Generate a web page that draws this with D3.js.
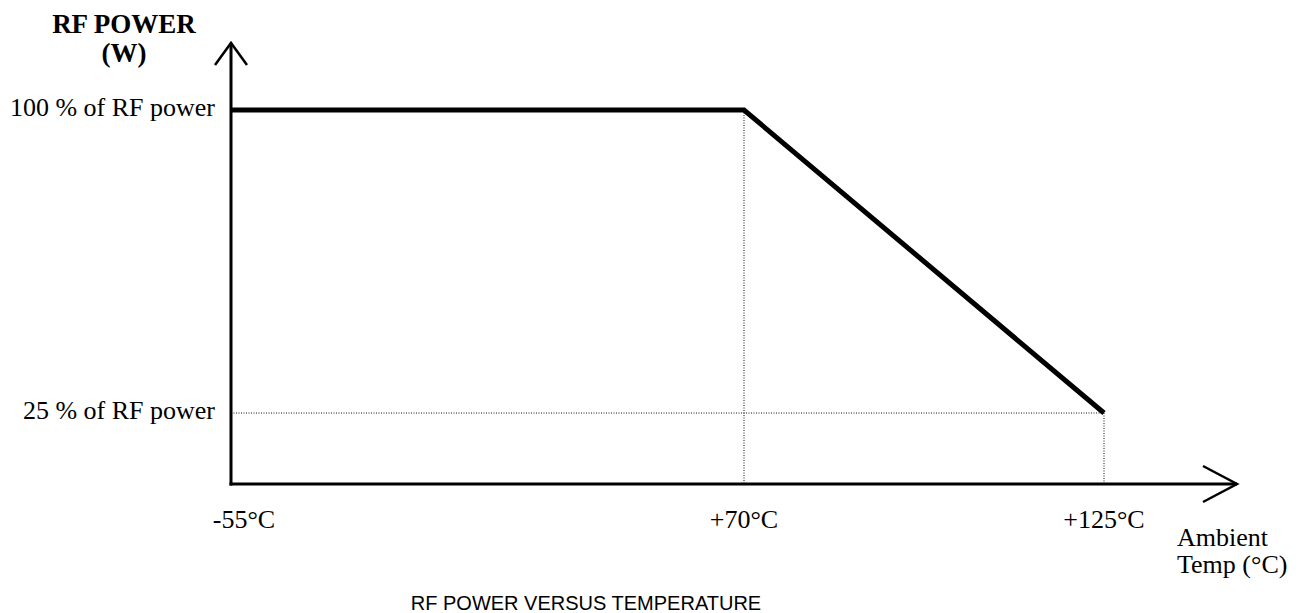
<!DOCTYPE html>
<html>
<head>
<meta charset="utf-8">
<script src="https://cdn.jsdelivr.net/npm/d3@7"></script>
<style>
  body { margin: 0; background: #fff; }
  .serif { font-family: "Liberation Serif", "Times New Roman", serif; }
</style>
</head>
<body>
<svg width="1309" height="613"></svg>
<script>
// data
var temps = [-55, 70, 125];
var power = [100, 100, 25];
var tempLabels = ["-55°C", "+70°C", "+125°C"];
var powerTicks = [100, 25];
var powerLabels = ["100 % of RF power", "25 % of RF power"];

var svg = d3.select("svg"),
    width = +svg.attr("width"),
    height = +svg.attr("height");

var origin = { x: 231, y: 484 },
    xEnd = 1237,
    yEnd = 43;

// the drawing's x axis is not to scale, so map each break point
var x = d3.scaleLinear()
    .domain(temps)
    .range([origin.x, 744, 1104]);

var y = d3.scaleLinear()
    .domain([25, 100])
    .range([413, 110]);

var pts = temps.map(function (t, i) { return { t: t, p: power[i] }; });

// dotted guide lines
var guides = svg.append("g")
    .attr("stroke", "#111")
    .attr("stroke-width", 1)
    .attr("stroke-dasharray", "1,1.5");

guides.selectAll("line.v")
    .data(pts.slice(1))
    .enter().append("line")
    .attr("class", "v")
    .attr("x1", function (d) { return x(d.t); })
    .attr("x2", function (d) { return x(d.t); })
    .attr("y1", function (d) { return y(d.p); })
    .attr("y2", origin.y);

guides.append("line")
    .attr("x1", origin.x)
    .attr("x2", x(temps[2]))
    .attr("y1", y(power[2]))
    .attr("y2", y(power[2]));

// axes with open arrowheads
var axes = svg.append("g")
    .attr("fill", "none")
    .attr("stroke", "#000")
    .attr("stroke-width", 3);

axes.append("line")
    .attr("x1", origin.x).attr("y1", origin.y + 1.5)
    .attr("x2", origin.x).attr("y2", yEnd);
axes.append("line")
    .attr("x1", origin.x - 1.5).attr("y1", origin.y)
    .attr("x2", xEnd).attr("y2", origin.y);

axes.append("path")
    .attr("stroke-width", 2.5)
    .attr("d", d3.line()([[origin.x - 16, yEnd + 22], [origin.x, yEnd], [origin.x + 16, yEnd + 22]]));
axes.append("path")
    .attr("stroke-width", 2.5)
    .attr("d", d3.line()([[xEnd - 34, origin.y - 18], [xEnd, origin.y], [xEnd - 34, origin.y + 18]]));

// power curve
svg.append("path")
    .datum(pts)
    .attr("fill", "none")
    .attr("stroke", "#000")
    .attr("stroke-width", 5)
    .attr("d", d3.line()
        .x(function (d) { return x(d.t); })
        .y(function (d) { return y(d.p); }));

// y labels
svg.append("g")
    .attr("class", "serif")
    .selectAll("text")
    .data(powerTicks)
    .enter().append("text")
    .attr("x", origin.x - 16)
    .attr("y", function (d) { return y(d) + 6; })
    .attr("text-anchor", "end")
    .attr("font-size", "26px")
    .text(function (d, i) { return powerLabels[i]; });

// x labels (first one sits a little right of the axis)
svg.append("g")
    .attr("class", "serif")
    .selectAll("text")
    .data(temps)
    .enter().append("text")
    .attr("x", function (d) { return x(d); })
    .attr("dx", function (d, i) { return i === 0 ? 13 : 0; })
    .attr("y", origin.y + 44)
    .attr("text-anchor", "middle")
    .attr("font-size", "26px")
    .text(function (d, i) { return tempLabels[i]; });

// axis titles
var yTitle = svg.append("text")
    .attr("class", "serif")
    .attr("x", 124)
    .attr("y", 33)
    .attr("text-anchor", "middle")
    .attr("font-size", "27px")
    .attr("font-weight", "bold");
yTitle.append("tspan").attr("x", 124).text("RF POWER");
yTitle.append("tspan").attr("x", 124).attr("dy", 29).text("(W)");

var xTitle = svg.append("text")
    .attr("class", "serif")
    .attr("x", 1177)
    .attr("y", 546)
    .attr("font-size", "26px");
xTitle.append("tspan").attr("x", 1177).text("Ambient");
xTitle.append("tspan").attr("x", 1177).attr("dy", 27).text("Temp (°C)");

// caption
svg.append("text")
    .attr("x", 586)
    .attr("y", 610)
    .attr("text-anchor", "middle")
    .attr("font-family", "'Liberation Sans', Arial, sans-serif")
    .attr("font-size", "20px")
    .text("RF POWER VERSUS TEMPERATURE");
</script>
</body>
</html>
